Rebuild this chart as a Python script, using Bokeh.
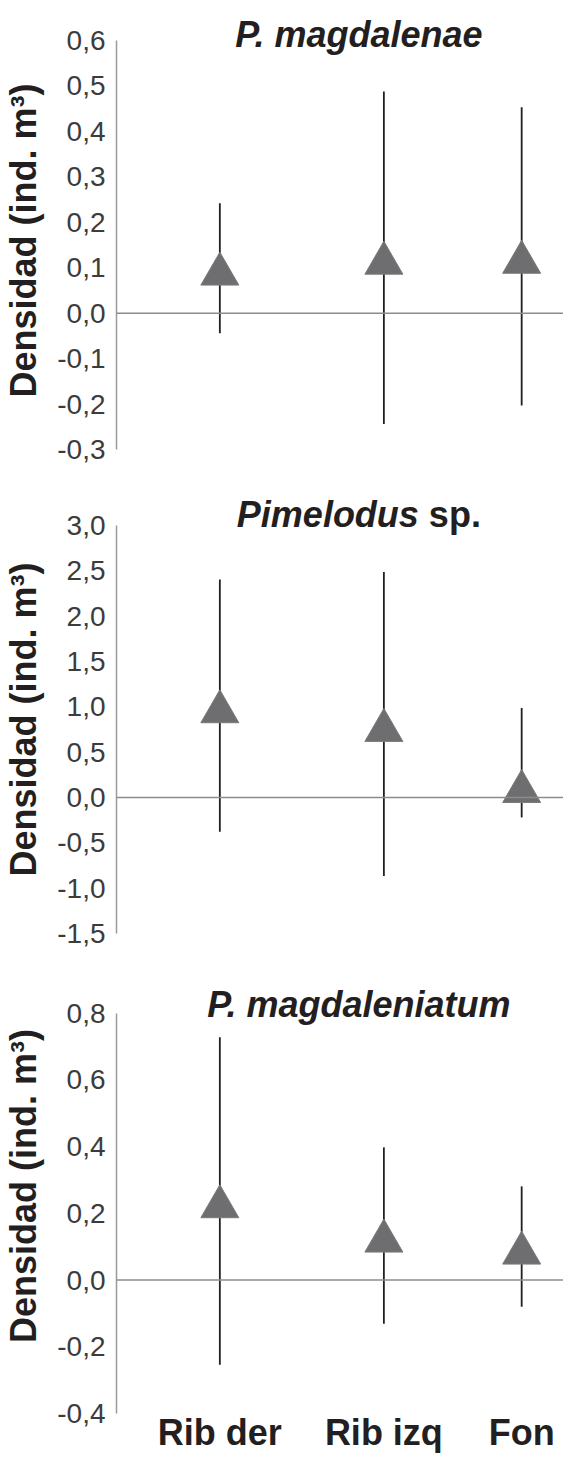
import math
from bokeh.plotting import figure
from bokeh.models import (Range1d, FixedTicker, CustomJSTickFormatter, Span, ColumnDataSource)
from bokeh.core.properties import value
from bokeh.layouts import column
from bokeh.embed import file_html
from bokeh.resources import INLINE

# ---------------- data ----------------
categories = ["Rib der", "Rib izq", "Fon"]

mean_magdalenae = [0.098, 0.122, 0.124]
upper_magdalenae = [0.242, 0.488, 0.453]
lower_magdalenae = [-0.044, -0.244, -0.203]

mean_pimelodus = [1.006, 0.800, 0.126]
upper_pimelodus = [2.404, 2.488, 0.988]
lower_pimelodus = [-0.377, -0.867, -0.220]

mean_magdaleniatum = [0.236, 0.133, 0.097]
upper_magdaleniatum = [0.728, 0.398, 0.281]
lower_magdaleniatum = [-0.254, -0.131, -0.080]

ticks_magdalenae = [-0.3, -0.2, -0.1, 0.0, 0.1, 0.2, 0.3, 0.4, 0.5, 0.6]
ticks_pimelodus = [-1.5, -1.0, -0.5, 0.0, 0.5, 1.0, 1.5, 2.0, 2.5, 3.0]
ticks_magdaleniatum = [-0.4, -0.2, 0.0, 0.2, 0.4, 0.6, 0.8]

y_label = "Densidad (ind. m³)"

# ---------------- layout / style ----------------
cat_slots = [1.0, 2.0, 2.84]          # horizontal slot of each category
X0, X1 = 0.37, 3.095
FIG_W = 563
LEFT = 113
FRAME_W = FIG_W - LEFT
PXPU_X = FRAME_W / (X1 - X0)
TITLE_CX = X0 + (357 - LEFT) / PXPU_X
MARKER_SIZE = 38
FONT = "Liberation Sans"
DARK = "#231f20"
TITLE_SIZE = 36

fmt_y = CustomJSTickFormatter(code="return tick.toFixed(1).replace('.', ',');")


def make_panel(mean, lo, hi, ticks, height, top, axis_len, bottom, title_base,
               titles, show_x=False):
    frame_h = height - bottom
    pxpu = axis_len / (ticks[-1] - ticks[0])
    y_end = ticks[-1] + top / pxpu
    y_start = ticks[0] - (frame_h - top - axis_len) / pxpu

    p = figure(width=FIG_W, height=height, output_backend="svg", toolbar_location=None,
               x_range=Range1d(X0, X1), y_range=Range1d(y_start, y_end),
               min_border_left=LEFT, min_border_right=0,
               min_border_top=0, min_border_bottom=bottom)
    p.outline_line_color = None
    p.grid.visible = False
    p.background_fill_color = "white"
    p.border_fill_color = "white"

    tri_h = MARKER_SIZE * math.sqrt(3) / 2
    shift = (tri_h / 6) / pxpu
    src = ColumnDataSource(dict(x=cat_slots, lo=lo, hi=hi,
                                my=[m - shift for m in mean]))

    p.add_layout(Span(location=0, dimension="width", line_color="#8c8c8c", line_width=1.5))
    p.segment(x0="x", y0="lo", x1="x", y1="hi", source=src, line_color=DARK, line_width=1.8)
    p.scatter(x="x", y="my", source=src, marker="triangle", size=MARKER_SIZE,
              fill_color="#6e6e70", line_color="#7a7a7c", line_width=1)

    ya = p.yaxis[0]
    ya.bounds = (ticks[0], ticks[-1])
    ya.ticker = FixedTicker(ticks=ticks)
    ya.formatter = fmt_y
    ya.major_label_text_font = FONT
    ya.major_label_text_font_size = "28px"
    ya.major_label_text_color = "#3c3c3c"
    ya.major_label_standoff = 5
    ya.major_tick_line_color = None
    ya.minor_tick_line_color = None
    ya.axis_line_color = "#9a9a9a"
    ya.axis_line_width = 1.5
    ya.axis_label = y_label
    ya.axis_label_text_font = FONT
    ya.axis_label_text_font_size = "36px"
    ya.axis_label_text_font_style = "bold"
    ya.axis_label_text_color = DARK
    ya.axis_label_standoff = 10

    xa = p.xaxis[0]
    if show_x:
        xa.ticker = FixedTicker(ticks=cat_slots)
        xa.formatter = CustomJSTickFormatter(
            args=dict(slots=cat_slots, labels=categories),
            code="const i = slots.indexOf(tick); return i >= 0 ? labels[i] : '';")
        xa.major_label_text_font = FONT
        xa.major_label_text_font_size = "36px"
        xa.major_label_text_font_style = "bold"
        xa.major_label_text_color = DARK
        xa.major_label_standoff = -8
        xa.axis_line_color = None
        xa.major_tick_line_color = None
        xa.minor_tick_line_color = None
    else:
        xa.visible = False

    ty = ticks[-1] + (top - title_base) / pxpu
    for text, off, align, style in titles:
        p.text(x=[TITLE_CX], y=[ty], text=[text], x_offset=off,
               text_align=align, text_baseline="alphabetic",
               text_font=value(FONT), text_font_size=value(f"{TITLE_SIZE}px"),
               text_font_style=value(style), text_color=DARK)
    return p


p1 = make_panel(mean_magdalenae, lower_magdalenae, upper_magdalenae, ticks_magdalenae,
                480, 40, 409, 0, 34,
                [("P. magdalenae", 0, "center", "bold italic")])
p2 = make_panel(mean_pimelodus, lower_pimelodus, upper_pimelodus, ticks_pimelodus,
                478, 45, 408, 0, 34,
                [("Pimelodus", 60, "right", "bold italic"),
                 ("sp.", 70, "left", "bold")])
p3 = make_panel(mean_magdaleniatum, lower_magdaleniatum, upper_magdaleniatum,
                ticks_magdaleniatum, 497, 56, 409, 32, 47,
                [("P. magdaleniatum", 0, "center", "bold italic")], show_x=True)

layout = column(p1, p2, p3)
open("out.html", "w").write(file_html(layout, INLINE))
